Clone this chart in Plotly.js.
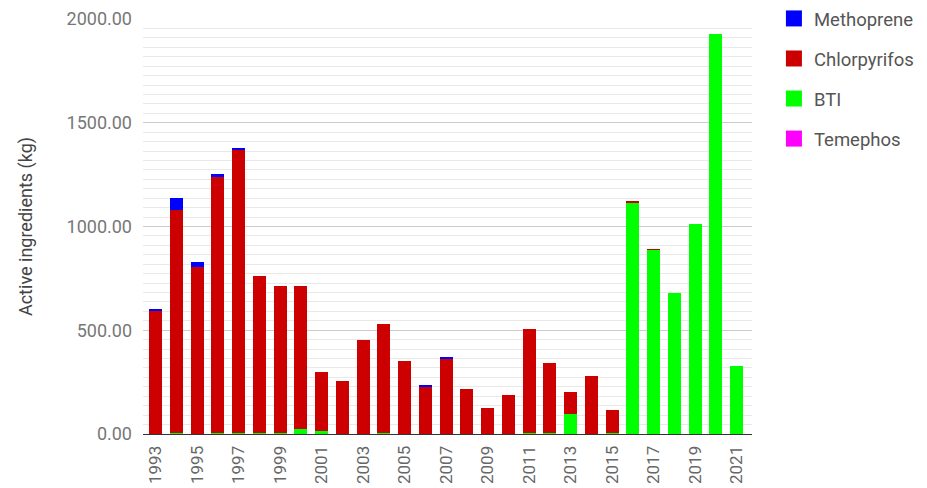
<!DOCTYPE html>
<html>
<head>
<meta charset="utf-8">
<script src="https://cdn.plot.ly/plotly-3.0.1.min.js"></script>
<style>html,body{margin:0;padding:0;background:#fff;}#chart{width:927px;height:488px;}</style>
</head>
<body>
<div id="chart"></div>
<script>
const years = [1993,1994,1995,1996,1997,1998,1999,2000,2001,2002,2003,2004,2005,2006,2007,2008,2009,2010,2011,2012,2013,2014,2015,2016,2017,2018,2019,2020,2021];
const bti = [0,5,0,3,3,3,3,22,15,0,0,3,0,0,0,0,0,0,3,3,95,0,3,1112,885,678,1012,1929,328];
const chlorpyrifos = [592,1076,803,1237,1364,760,712,693,282,257,451,525,350,228,363,217,124,186,503,341,107,280,113,9,6,0,0,0,0];
const methoprene = [12,55,27,14,10,0,0,0,0,0,0,0,0,8,10,0,0,0,0,0,0,0,0,0,0,0,0,0,0];
const temephos = [0,0,0,0,0,0,0,0,0,0,0,0,0,0,0,0,0,0,0,0,0,0,0,0,0,0,0,0,0];
const yTicks = [0,500,1000,1500,2000];

const names = ['Methoprene','Chlorpyrifos','BTI','Temephos'];
const colors = {Methoprene:'#0000ff', Chlorpyrifos:'#cc0000', BTI:'#00ff00', Temephos:'#ff00ff'};
const series = {BTI:bti, Chlorpyrifos:chlorpyrifos, Methoprene:methoprene, Temephos:temephos};

const traces = [];
['BTI','Chlorpyrifos','Methoprene','Temephos'].forEach(n => {
  traces.push({type:'bar', name:n, x:years, y:series[n], marker:{color:colors[n]}, showlegend:false});
});
names.forEach((n,i) => {
  traces.push({type:'scatter', mode:'markers', name:n, x:[null], y:[null],
    marker:{symbol:'square', size:16, color:colors[n]}, legendgroup:n, legendrank:i+1, showlegend:true});
});

const layout = {
  width:927, height:488,
  margin:{l:143, r:175, t:19, b:54, autoexpand:false},
  barmode:'stack', bargap:0.37,
  paper_bgcolor:'#fff', plot_bgcolor:'#fff',
  font:{family:'Roboto, sans-serif', size:18, color:'#666'},
  xaxis:{
    range:[1992.39, 2021.74], tickmode:'linear', tick0:1993, dtick:2, tickangle:-90,
    showgrid:false, showline:true, linecolor:'#333', linewidth:1, zeroline:false,
    ticks:'', ticklabelstandoff:4, tickfont:{size:17, color:'#666'}
  },
  yaxis:{
    range:[0,2000], tickvals:yTicks, tickformat:'.2f',
    showgrid:true, gridcolor:'#cccccc', zeroline:false, showline:false,
    ticklabelstandoff:10, tickfont:{size:18, color:'#777'},
    minor:{tick0:0, dtick:500/11, showgrid:true, gridcolor:'#e9e9e9'},
    title:{text:'Active ingredients (kg)', font:{size:18, color:'#444'}, standoff:29}
  },
  legend:{x:1.036, xanchor:'left', y:1.046, yanchor:'top', traceorder:'grouped', tracegroupgap:13,
    font:{size:18.5, color:'#555'}, bgcolor:'rgba(0,0,0,0)'},
  showlegend:true
};
Plotly.newPlot('chart', traces, layout, {displayModeBar:false, staticPlot:true});
</script>
</body>
</html>
